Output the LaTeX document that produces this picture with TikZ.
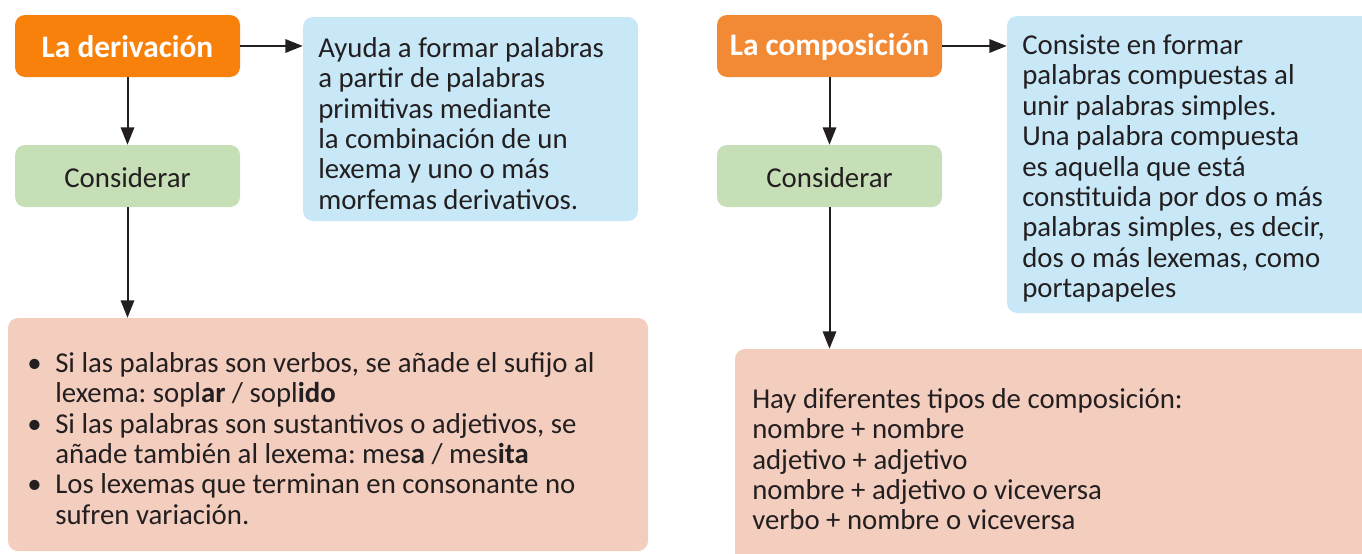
\documentclass[tikz,border=0pt]{standalone}
\usepackage{fontspec}
\setmainfont{Carlito}
\usetikzlibrary{arrows.meta,fit}
\definecolor{txt}{HTML}{231F20}
\definecolor{orangeA}{HTML}{F7810A}
\definecolor{orangeB}{HTML}{F28A35}
\definecolor{greenbox}{HTML}{C6DFB6}
\definecolor{bluebox}{HTML}{C8E8F8}
\definecolor{pinkbox}{HTML}{F3CDBE}
\frenchspacing
\begin{document}
\begin{tikzpicture}[x=0.75pt,y=-0.75pt,
  box/.style={inner sep=0pt, rounded corners=7.5pt, draw=none},
  title/.style={font=\fontsize{23.5pt}{26pt}\selectfont\bfseries, text=white, inner sep=0pt},
  label/.style={font=\fontsize{21.6pt}{24pt}\selectfont, text=txt, inner sep=0pt},
  body/.style={font=\fontsize{21.6pt}{22.8pt}\selectfont, text=txt, inner sep=0pt, anchor=north west, align=left},
  arr/.style={draw=txt, line width=1.5pt, -{Triangle[length=13pt,width=10pt]}}
]
\useasboundingbox (0,0) rectangle (1362,553);
% left column
\node[box, fill=orangeA, fit={(15,15) (240,77)}] (o1) {};
\node[title] (t1) at ([yshift=-0.6pt]o1.center) {La derivación};
\node[box, fill=greenbox, fit={(15,145) (240,207)}] (g1) {};
\node[label] (l1) at ([yshift=-1pt]g1.center) {Considerar};
\node[box, fill=bluebox, fit={(303,17) (638,221)}] (b1) {};
\node[body] (bt1) at (318,37) {Ayuda a formar palabras\\a partir de palabras\\primitivas mediante\\la combinación de un\\lexema y uno o más\\morfemas derivativos.};
\node[box, fill=pinkbox, fit={(8,318) (648,551)}] (p1) {};
\node[body] (pt1) at (27,352) {%
\makebox[21pt][l]{\textbullet}Si las palabras son verbos, se añade el sufijo al\\
\hspace*{21pt}lexema: sopl\textbf{ar} / sopl\textbf{ido}\\
\makebox[21pt][l]{\textbullet}Si las palabras son sustantivos o adjetivos, se\\
\hspace*{21pt}añade también al lexema: mes\textbf{a} / mes\textbf{ita}\\
\makebox[21pt][l]{\textbullet}Los lexemas que terminan en consonante no\\
\hspace*{21pt}sufren variación.};
% right column
\node[box, fill=orangeB, fit={(717,15) (942,77)}] (o2) {};
\node[title] (t2) at ([yshift=-0.6pt]o2.center) {La composición};
\node[box, fill=greenbox, fit={(717,145) (942,207)}] (g2) {};
\node[label] (l2) at ([yshift=-1pt]g2.center) {Considerar};
\node[box, fill=bluebox, fit={(1007,16) (1375,313)}] (b2) {};
\node[body] (bt2) at (1022,34.5) {Consiste en formar\\palabras compuestas al\\unir palabras simples.\\Una palabra compuesta\\es aquella que está\\constituida por dos o más\\palabras simples, es decir,\\dos o más lexemas, como\\portapapeles};
\node[box, fill=pinkbox, fit={(735,349) (1380,570)}] (p2) {};
\node[body] (pt2) at (752,388) {Hay diferentes tipos de composición:\\nombre + nombre\\adjetivo + adjetivo\\nombre + adjetivo o viceversa\\verbo + nombre o viceversa};
% connectors
\draw[arr] (o1.east) -- (b1.west |- o1.east);
\draw[arr] (o1.south) -- (g1.north);
\draw[arr] (g1.south) -- (g1.south |- p1.north);
\draw[arr] (o2.east) -- (b2.west |- o2.east);
\draw[arr] (o2.south) -- (g2.north);
\draw[arr] (g2.south) -- (g2.south |- p2.north);
\end{tikzpicture}
\end{document}
